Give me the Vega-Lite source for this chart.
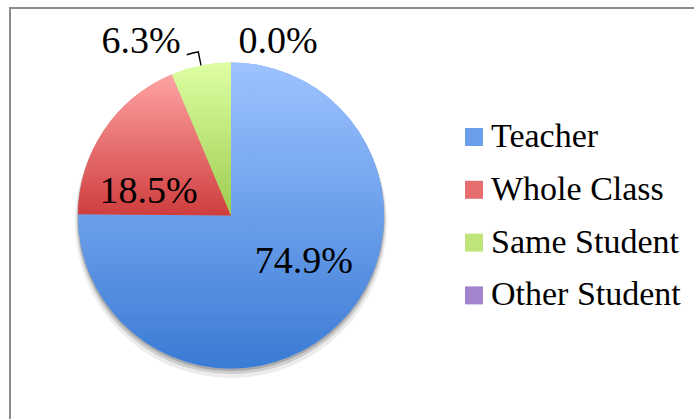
{
  "$schema": "https://vega.github.io/schema/vega-lite/v6.json",
  "width": 690,
  "height": 420,
  "autosize": {"type": "none"},
  "padding": {"left": 10, "top": 8, "right": 0, "bottom": 0},
  "background": "white",
  "view": {"stroke": "#8c8c8c", "strokeWidth": 2, "fill": null},
  "config": {
    "view": {"stroke": "#8c8c8c", "strokeWidth": 2},
    "text": {"font": "Liberation Serif", "fontSize": 38, "color": "black", "align": "center", "baseline": "alphabetic"}
  },
  "data": {
    "values": [
      {"cat": "Teacher", "share": 0.749, "order": 1},
      {"cat": "Whole Class", "share": 0.185, "order": 2},
      {"cat": "Same Student", "share": 0.063, "order": 3},
      {"cat": "Other Student", "share": 0.0, "order": 4}
    ]
  },
  "layer": [
    {"mark": {"type": "arc", "x": 221, "y": 214, "radius": 156, "fill": "#ececec", "stroke": null},
     "encoding": {"theta": {"field": "share", "type": "quantitative", "stack": true}, "order": {"field": "order", "type": "quantitative"}}},
    {"mark": {"type": "arc", "x": 221, "y": 211.5, "radius": 154.5, "fill": "#cdcdcd", "stroke": null},
     "encoding": {"theta": {"field": "share", "type": "quantitative", "stack": true}, "order": {"field": "order", "type": "quantitative"}}},
    {"mark": {"type": "arc", "x": 221, "y": 209.5, "radius": 153.5, "fill": "#a9a9a9", "stroke": null},
     "encoding": {"theta": {"field": "share", "type": "quantitative", "stack": true}, "order": {"field": "order", "type": "quantitative"}}},
    {
      "mark": {"type": "arc", "x": 221, "y": 207.5, "radius": 153, "stroke": null},
      "encoding": {
        "theta": {"field": "share", "type": "quantitative", "stack": true},
        "order": {"field": "order", "type": "quantitative"},
        "color": {
          "field": "cat",
          "type": "nominal",
          "sort": ["Teacher", "Whole Class", "Same Student", "Other Student"],
          "scale": {
            "domain": ["Teacher", "Whole Class", "Same Student", "Other Student"],
            "range": ["#6b9fea", "#e76e6e", "#bfe57a", "#a184cc"]
          },
          "legend": {
            "orient": "none",
            "legendX": 447,
            "legendY": 112,
            "title": null,
            "symbolType": "square",
            "symbolSize": 324,
            "symbolStrokeWidth": 0,
            "labelFont": "Liberation Serif",
            "labelFontSize": 34,
            "labelColor": "black",
            "labelOffset": 0,
            "labelLimit": 400,
            "rowPadding": 18.8,
            "encode": {
              "symbols": {
                "fill": {"value": {"expr": "datum.value === 'Teacher' ? {gradient: 'linear', x1: 0, y1: 0, x2: 0, y2: 1, stops: [{offset: 0, color: '#9dc3ff'}, {offset: 1, color: '#3a7bd5'}]} : datum.value === 'Whole Class' ? {gradient: 'linear', x1: 0, y1: 0, x2: 0, y2: 1, stops: [{offset: 0, color: '#ffa3a3'}, {offset: 1, color: '#cf3d3d'}]} : datum.value === 'Same Student' ? {gradient: 'linear', x1: 0, y1: 0, x2: 0, y2: 1, stops: [{offset: 0, color: '#deffa3'}, {offset: 1, color: '#9ecb4f'}]} : {gradient: 'linear', x1: 0, y1: 0, x2: 0, y2: 1, stops: [{offset: 0, color: '#cbb6ec'}, {offset: 1, color: '#7a57a8'}]}"}}
              }
            }
          }
        }
      }
    },
    {
      "mark": {"type": "arc", "x": 221, "y": 207.5, "radius": 153, "stroke": null},
      "encoding": {
        "theta": {"field": "share", "type": "quantitative", "stack": true},
        "order": {"field": "order", "type": "quantitative"},
        "fill": {
          "condition": [
            {"test": "datum.cat === 'Teacher'", "value": {"gradient": "linear", "x1": 0, "y1": 0, "x2": 0, "y2": 1, "stops": [{"offset": 0, "color": "#9dc3ff"}, {"offset": 1, "color": "#3a7bd5"}]}},
            {"test": "datum.cat === 'Whole Class'", "value": {"gradient": "linear", "x1": 0, "y1": 0, "x2": 0, "y2": 1, "stops": [{"offset": 0, "color": "#ffa3a3"}, {"offset": 1, "color": "#cf3d3d"}]}},
            {"test": "datum.cat === 'Same Student'", "value": {"gradient": "linear", "x1": 0, "y1": 0, "x2": 0, "y2": 1, "stops": [{"offset": 0, "color": "#deffa3"}, {"offset": 1, "color": "#9ecb4f"}]}}
          ],
          "value": {"gradient": "linear", "x1": 0, "y1": 0, "x2": 0, "y2": 1, "stops": [{"offset": 0, "color": "#cbb6ec"}, {"offset": 1, "color": "#7a57a8"}]}
        }
      }
    },
    {
      "transform": [{"filter": "datum.cat === 'Same Student'"}],
      "mark": {"type": "arc", "x": 221, "y": 207.5, "radius": 166.5, "radius2": 153, "theta": 6.0815, "theta2": 6.0902, "fill": "black", "stroke": null}
    },
    {
      "transform": [{"filter": "datum.cat === 'Same Student'"}],
      "mark": {"type": "arc", "x": 221, "y": 207.5, "radius": 167.5, "radius2": 166, "theta": 6.0144, "theta2": 6.0902, "fill": "black", "stroke": null}
    },
    {
      "mark": {"type": "text", "x": 221, "y": 207.5, "radius": 80, "dx": 16.6, "dy": 1.2},
      "encoding": {
        "theta": {"field": "share", "type": "quantitative", "stack": true},
        "order": {"field": "order", "type": "quantitative"},
        "text": {"field": "share", "type": "quantitative", "format": ".1%"},
        "opacity": {"condition": {"test": "datum.cat === 'Teacher'", "value": 1}, "value": 0}
      }
    },
    {
      "mark": {"type": "text", "x": 221, "y": 207.5, "radius": 80, "dx": -16.1, "dy": 31.6},
      "encoding": {
        "theta": {"field": "share", "type": "quantitative", "stack": true},
        "order": {"field": "order", "type": "quantitative"},
        "text": {"field": "share", "type": "quantitative", "format": ".1%"},
        "opacity": {"condition": {"test": "datum.cat === 'Whole Class'", "value": 1}, "value": 0}
      }
    },
    {
      "mark": {"type": "text", "x": 221, "y": 207.5, "radius": 170, "dx": -56.4, "dy": 4.6},
      "encoding": {
        "theta": {"field": "share", "type": "quantitative", "stack": true},
        "order": {"field": "order", "type": "quantitative"},
        "text": {"field": "share", "type": "quantitative", "format": ".1%"},
        "opacity": {"condition": {"test": "datum.cat === 'Same Student'", "value": 1}, "value": 0}
      }
    },
    {
      "mark": {"type": "text", "x": 221, "y": 207.5, "radius": 165, "dx": 47, "dy": 2},
      "encoding": {
        "theta": {"field": "share", "type": "quantitative", "stack": true},
        "order": {"field": "order", "type": "quantitative"},
        "text": {"field": "share", "type": "quantitative", "format": ".1%"},
        "opacity": {"condition": {"test": "datum.cat === 'Other Student'", "value": 1}, "value": 0}
      }
    }
  ]
}
